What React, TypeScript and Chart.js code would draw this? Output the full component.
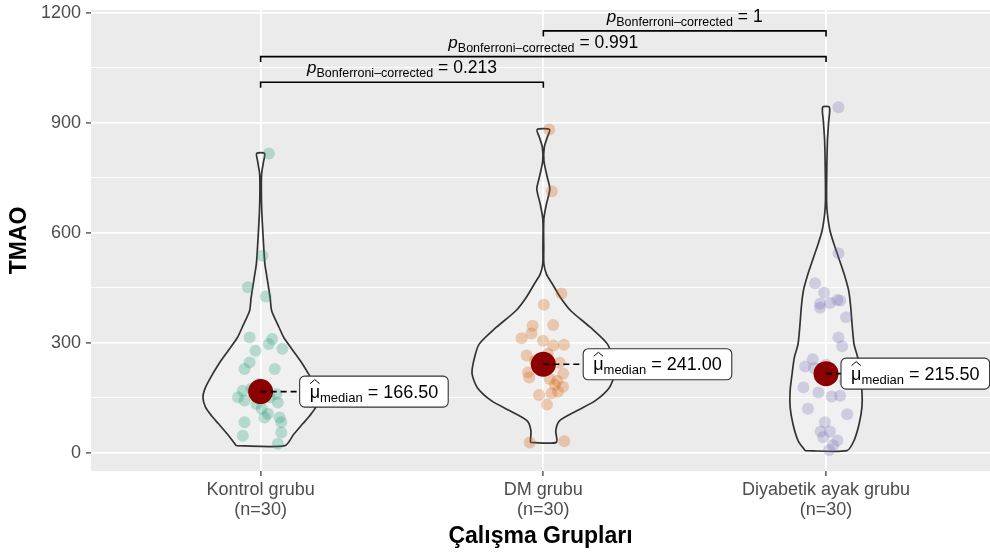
import React, { useEffect, useRef } from 'react';
import { Chart, registerables } from 'chart.js';

Chart.register(...registerables);

const FONT = '"Liberation Sans", Arial, Helvetica, sans-serif';

// ---------- data ----------
const GROUPS = ['Kontrol grubu', 'DM grubu', 'Diyabetik ayak grubu'];
const GROUP_N = [30, 30, 30];
const Y_TICKS = [0, 150, 300, 450, 600, 750, 900, 1050, 1200];
const MEDIANS = [166.5, 241.0, 215.5];

const KONTROL_VALUES = [816, 537, 451, 426, 314, 310, 278, 296, 283, 246, 228, 228, 187, 169, 151, 142, 133, 151, 137, 160, 106, 96, 96, 83, 83, 55, 46, 24, 175, 120];
const KONTROL_JITTER = [0.029, 0.006, -0.045, 0.018, -0.039, 0.041, -0.018, 0.029, 0.077, -0.039, -0.057, 0.05, -0.004, -0.063, -0.08, -0.057, -0.015, 0.032, 0.061, 0.056, 0.026, 0.014, 0.067, -0.057, 0.073, 0.073, -0.063, 0.061, -0.032, 0.004];

const DM_VALUES = [881, 713, 434, 403, 346, 348, 312, 325, 305, 292, 294, 265, 219, 205, 233, 215, 201, 196, 180, 166, 157, 162, 131, 28, 31, 250, 270, 185, 225, 245];
const DM_JITTER = [0.021, 0.03, 0.064, 0.002, -0.038, 0.035, -0.077, -0.042, -0.001, 0.035, 0.073, -0.059, -0.054, -0.05, 0.023, 0.07, 0.023, 0.049, 0.07, 0.052, -0.015, 0.029, 0.013, -0.048, 0.074, -0.03, 0.016, 0.041, -0.012, 0.058];

const DIYABETIK_VALUES = [942, 544, 462, 436, 406, 408, 416, 415, 369, 314, 255, 235, 178, 164, 153, 155, 105, 83, 58, 58, 42, 33, 7, 230, 195, 120, 20, 395, 290, 240];
const DIYABETIK_JITTER = [0.044, 0.044, -0.039, -0.007, -0.021, 0.014, 0.04, 0.05, 0.071, 0.044, -0.047, -0.074, -0.08, -0.027, 0.02, 0.05, 0.075, -0.004, -0.019, 0.014, -0.01, 0.04, 0.011, -0.042, 0.067, -0.064, 0.025, -0.021, 0.057, 0.0];

// violin outlines: value levels and half-widths (in category units)
const KONTROL_VIOLIN_Y = [19, 50, 78, 100, 124, 151, 178, 210, 242, 280, 314, 342, 387, 420, 451, 485, 515, 560, 614, 660, 714, 760, 796, 816];
const KONTROL_VIOLIN_W = [0.086, 0.117, 0.148, 0.173, 0.195, 0.204, 0.195, 0.173, 0.148, 0.113, 0.082, 0.065, 0.039, 0.034, 0.028, 0.021, 0.015, 0.011, 0.007, 0.004, 0.0025, 0.0035, 0.011, 0.014];

const DM_VIOLIN_Y = [28, 60, 87, 115, 142, 178, 215, 251, 296, 342, 387, 424, 460, 487, 515, 560, 614, 642, 678, 719, 751, 796, 833, 860, 881];
const DM_VIOLIN_W = [0.046, 0.044, 0.057, 0.12, 0.184, 0.234, 0.252, 0.246, 0.227, 0.166, 0.097, 0.06, 0.032, 0.011, 0.002, 0.0015, 0.001, 0.0025, 0.011, 0.023, 0.014, 0.002, 0.0035, 0.014, 0.022];

const DIYABETIK_VIOLIN_Y = [5.5, 33, 78, 124, 169, 215, 260, 296, 351, 400, 442, 487, 533, 569, 605, 650, 687, 760, 851, 900, 942];
const DIYABETIK_VIOLIN_W = [0.074, 0.099, 0.117, 0.127, 0.127, 0.12, 0.112, 0.099, 0.092, 0.087, 0.08, 0.064, 0.044, 0.028, 0.014, 0.005, 0.002, 0.0025, 0.005, 0.009, 0.012];

const PAIR_A = [1, 1, 2];
const PAIR_B = [2, 3, 3];
const P_VALUES = ['0.213', '0.991', '1'];
const BRACKET_Y = [1010, 1080, 1150];

// ---------- layout / style ----------
const LABEL_DX = [0.138, 0.141, 0.053];
const BRACKET_TIP = 15;
const POINT_COLORS = ['rgba(27,158,119,0.28)', 'rgba(217,95,2,0.28)', 'rgba(117,112,179,0.28)'];

function violinPath(c: number, ys: number[], ws: number[]) {
  const left = ys.map((y, i) => ({ x: c - ws[i], y }));
  const right = ys.map((y, i) => ({ x: c + ws[i], y })).reverse();
  return [...left, ...right, left[0]];
}

type Part = { t: string; f: string; dy: number; hat?: boolean };
function measureParts(ctx: CanvasRenderingContext2D, parts: Part[]) {
  let w = 0;
  for (const p of parts) { ctx.font = p.f; w += ctx.measureText(p.t).width; }
  return w;
}
function drawParts(ctx: CanvasRenderingContext2D, parts: Part[], x: number, y: number) {
  let cx = x;
  for (const p of parts) {
    ctx.font = p.f;
    ctx.fillText(p.t, cx, y + p.dy);
    const w = ctx.measureText(p.t).width;
    if (p.hat) {
      ctx.save();
      ctx.beginPath();
      ctx.lineWidth = 1;
      ctx.strokeStyle = '#000';
      ctx.moveTo(cx + 0.5, y - 14);
      ctx.lineTo(cx + w / 2, y - 18);
      ctx.lineTo(cx + w - 0.5, y - 14);
      ctx.stroke();
      ctx.restore();
    }
    cx += w;
  }
}

const panelBg = {
  id: 'panelBg',
  beforeDraw(chart: any) {
    const { ctx, chartArea: a } = chart;
    ctx.save();
    ctx.fillStyle = '#EBEBEB';
    ctx.fillRect(a.left, a.top, a.right - a.left, a.bottom - a.top);
    ctx.restore();
  },
};

const annotations = {
  id: 'annotations',
  afterDatasetsDraw(chart: any) {
    const { ctx } = chart;
    const xs = chart.scales.x;
    const ys = chart.scales.y;
    ctx.save();
    ctx.textBaseline = 'alphabetic';
    ctx.textAlign = 'left';
    ctx.fillStyle = '#000';
    // p-value labels
    P_VALUES.forEach((pv, i) => {
      const parts: Part[] = [
        { t: 'p', f: `italic 17px ${FONT}`, dy: 0 },
        { t: 'Bonferroni–corrected', f: `12.5px ${FONT}`, dy: 4 },
        { t: ' = ' + pv, f: `17.5px ${FONT}`, dy: 0 },
      ];
      const mid = (xs.getPixelForValue(PAIR_A[i]) + xs.getPixelForValue(PAIR_B[i])) / 2;
      const w = measureParts(ctx, parts);
      const y = ys.getPixelForValue(BRACKET_Y[i]) - 9;
      drawParts(ctx, parts, mid - w / 2, y);
    });
    // median labels
    MEDIANS.forEach((m, i) => {
      const parts: Part[] = [
        { t: 'μ', f: `18px ${FONT}`, dy: 0, hat: true },
        { t: 'median', f: `13px ${FONT}`, dy: 4 },
        { t: ' = ' + m.toFixed(2), f: `18px ${FONT}`, dy: 0 },
      ];
      const px = xs.getPixelForValue(i + 1 + LABEL_DX[i]);
      const py = ys.getPixelForValue(m);
      const w = measureParts(ctx, parts);
      const bw = w + 20;
      const bh = 31;
      ctx.beginPath();
      if ((ctx as any).roundRect) (ctx as any).roundRect(px, py - bh / 2, bw, bh, 5);
      else ctx.rect(px, py - bh / 2, bw, bh);
      ctx.fillStyle = '#FFFFFF';
      ctx.fill();
      ctx.lineWidth = 1.1;
      ctx.strokeStyle = '#333333';
      ctx.stroke();
      ctx.fillStyle = '#000';
      drawParts(ctx, parts, px + 10, py + 6);
    });
    ctx.restore();
  },
};

export default function App() {
  const ref = useRef<HTMLCanvasElement | null>(null);

  useEffect(() => {
    if (!ref.current) return;
    const groupsPts = [
      [KONTROL_VALUES, KONTROL_JITTER],
      [DM_VALUES, DM_JITTER],
      [DIYABETIK_VALUES, DIYABETIK_JITTER],
    ];
    const violins = [
      [KONTROL_VIOLIN_Y, KONTROL_VIOLIN_W],
      [DM_VIOLIN_Y, DM_VIOLIN_W],
      [DIYABETIK_VIOLIN_Y, DIYABETIK_VIOLIN_W],
    ];
    const datasets: any[] = [];
    violins.forEach(([vy, vw], i) => {
      datasets.push({
        type: 'line',
        data: violinPath(i + 1, vy, vw),
        borderColor: '#333333',
        borderWidth: 1.7,
        backgroundColor: 'rgba(255,255,255,0.25)',
        fill: 'shape',
        pointRadius: 0,
        tension: 0.25,
        order: 10,
      });
    });
    groupsPts.forEach(([vals, jit], i) => {
      datasets.push({
        type: 'scatter',
        data: vals.map((v, k) => ({ x: i + 1 + jit[k], y: v })),
        backgroundColor: POINT_COLORS[i],
        borderWidth: 0,
        pointRadius: 6,
        order: 8,
      });
    });
    datasets.push({
      type: 'scatter',
      data: MEDIANS.map((m, i) => ({ x: i + 1, y: m })),
      backgroundColor: '#8B0000',
      borderWidth: 0,
      pointRadius: 12.5,
      order: 6,
    });
    MEDIANS.forEach((m, i) => {
      datasets.push({
        type: 'line',
        data: [{ x: i + 1, y: m }, { x: i + 1 + LABEL_DX[i], y: m }],
        borderColor: '#000',
        borderWidth: 1.6,
        borderDash: [6, 4],
        pointRadius: 0,
        fill: false,
        order: 5,
      });
    });
    BRACKET_Y.forEach((by, i) => {
      datasets.push({
        type: 'line',
        data: [
          { x: PAIR_A[i], y: by - BRACKET_TIP },
          { x: PAIR_A[i], y: by },
          { x: PAIR_B[i], y: by },
          { x: PAIR_B[i], y: by - BRACKET_TIP },
        ],
        borderColor: '#000',
        borderWidth: 1.6,
        pointRadius: 0,
        fill: false,
        order: 4,
      });
    });

    const chart = new Chart(ref.current, {
      type: 'scatter',
      data: { datasets },
      plugins: [panelBg, annotations],
      options: {
        animation: false,
        responsive: true,
        maintainAspectRatio: false,
        layout: { autoPadding: false, padding: { top: 10, left: 0, right: 0, bottom: 0 } },
        plugins: { legend: { display: false }, tooltip: { enabled: false } },
        scales: {
          x: {
            type: 'linear',
            min: 0.4,
            max: 3.58,
            afterBuildTicks: (s: any) => { s.ticks = [1, 2, 3].map((v) => ({ value: v })); },
            afterFit: (s: any) => { s.height = 85; s.paddingLeft = 0; s.paddingRight = 0; },
            border: { display: false },
            grid: { color: '#FFFFFF', lineWidth: 1.8, tickColor: '#333333', tickLength: 5, tickWidth: 1.2 },
            ticks: {
              autoSkip: false,
              maxRotation: 0,
              padding: 4,
              color: '#4D4D4D',
              font: { family: FONT, size: 18, lineHeight: 1.1 },
              callback: (v: any) => [GROUPS[Number(v) - 1], `(n=${GROUP_N[Number(v) - 1]})`],
            },
            title: {
              display: true,
              text: 'Çalışma Grupları',
              color: '#000',
              font: { family: FONT, size: 23, weight: 'bold' },
              padding: { top: 0, bottom: 6 },
            },
          },
          y: {
            type: 'linear',
            min: -50,
            max: 1207,
            afterBuildTicks: (s: any) => { s.ticks = Y_TICKS.map((v) => ({ value: v })); },
            afterFit: (s: any) => { s.width = 91; s.paddingTop = 0; s.paddingBottom = 0; },
            border: { display: false },
            grid: {
              color: '#FFFFFF',
              lineWidth: (c: any) => (c.tick && c.tick.value % 300 === 0 ? 1.8 : 0.9),
              tickColor: (c: any) => (c.tick && c.tick.value % 300 === 0 ? '#333333' : 'rgba(0,0,0,0)'),
              tickLength: 5,
              tickWidth: 1.2,
            },
            ticks: {
              padding: 5,
              color: '#4D4D4D',
              font: { family: FONT, size: 18 },
              callback: (v: any) => (Number(v) % 300 === 0 ? String(v) : ''),
            },
            title: {
              display: true,
              text: 'TMAO',
              color: '#000',
              font: { family: FONT, size: 23, weight: 'bold' },
              padding: { top: 6, bottom: 0 },
            },
          },
        },
      },
    });
    return () => chart.destroy();
  }, []);

  return (
    <div style={{ position: 'absolute', left: 0, top: 0, width: 990, height: 556, background: '#fff' }}>
      <canvas ref={ref} />
    </div>
  );
}
